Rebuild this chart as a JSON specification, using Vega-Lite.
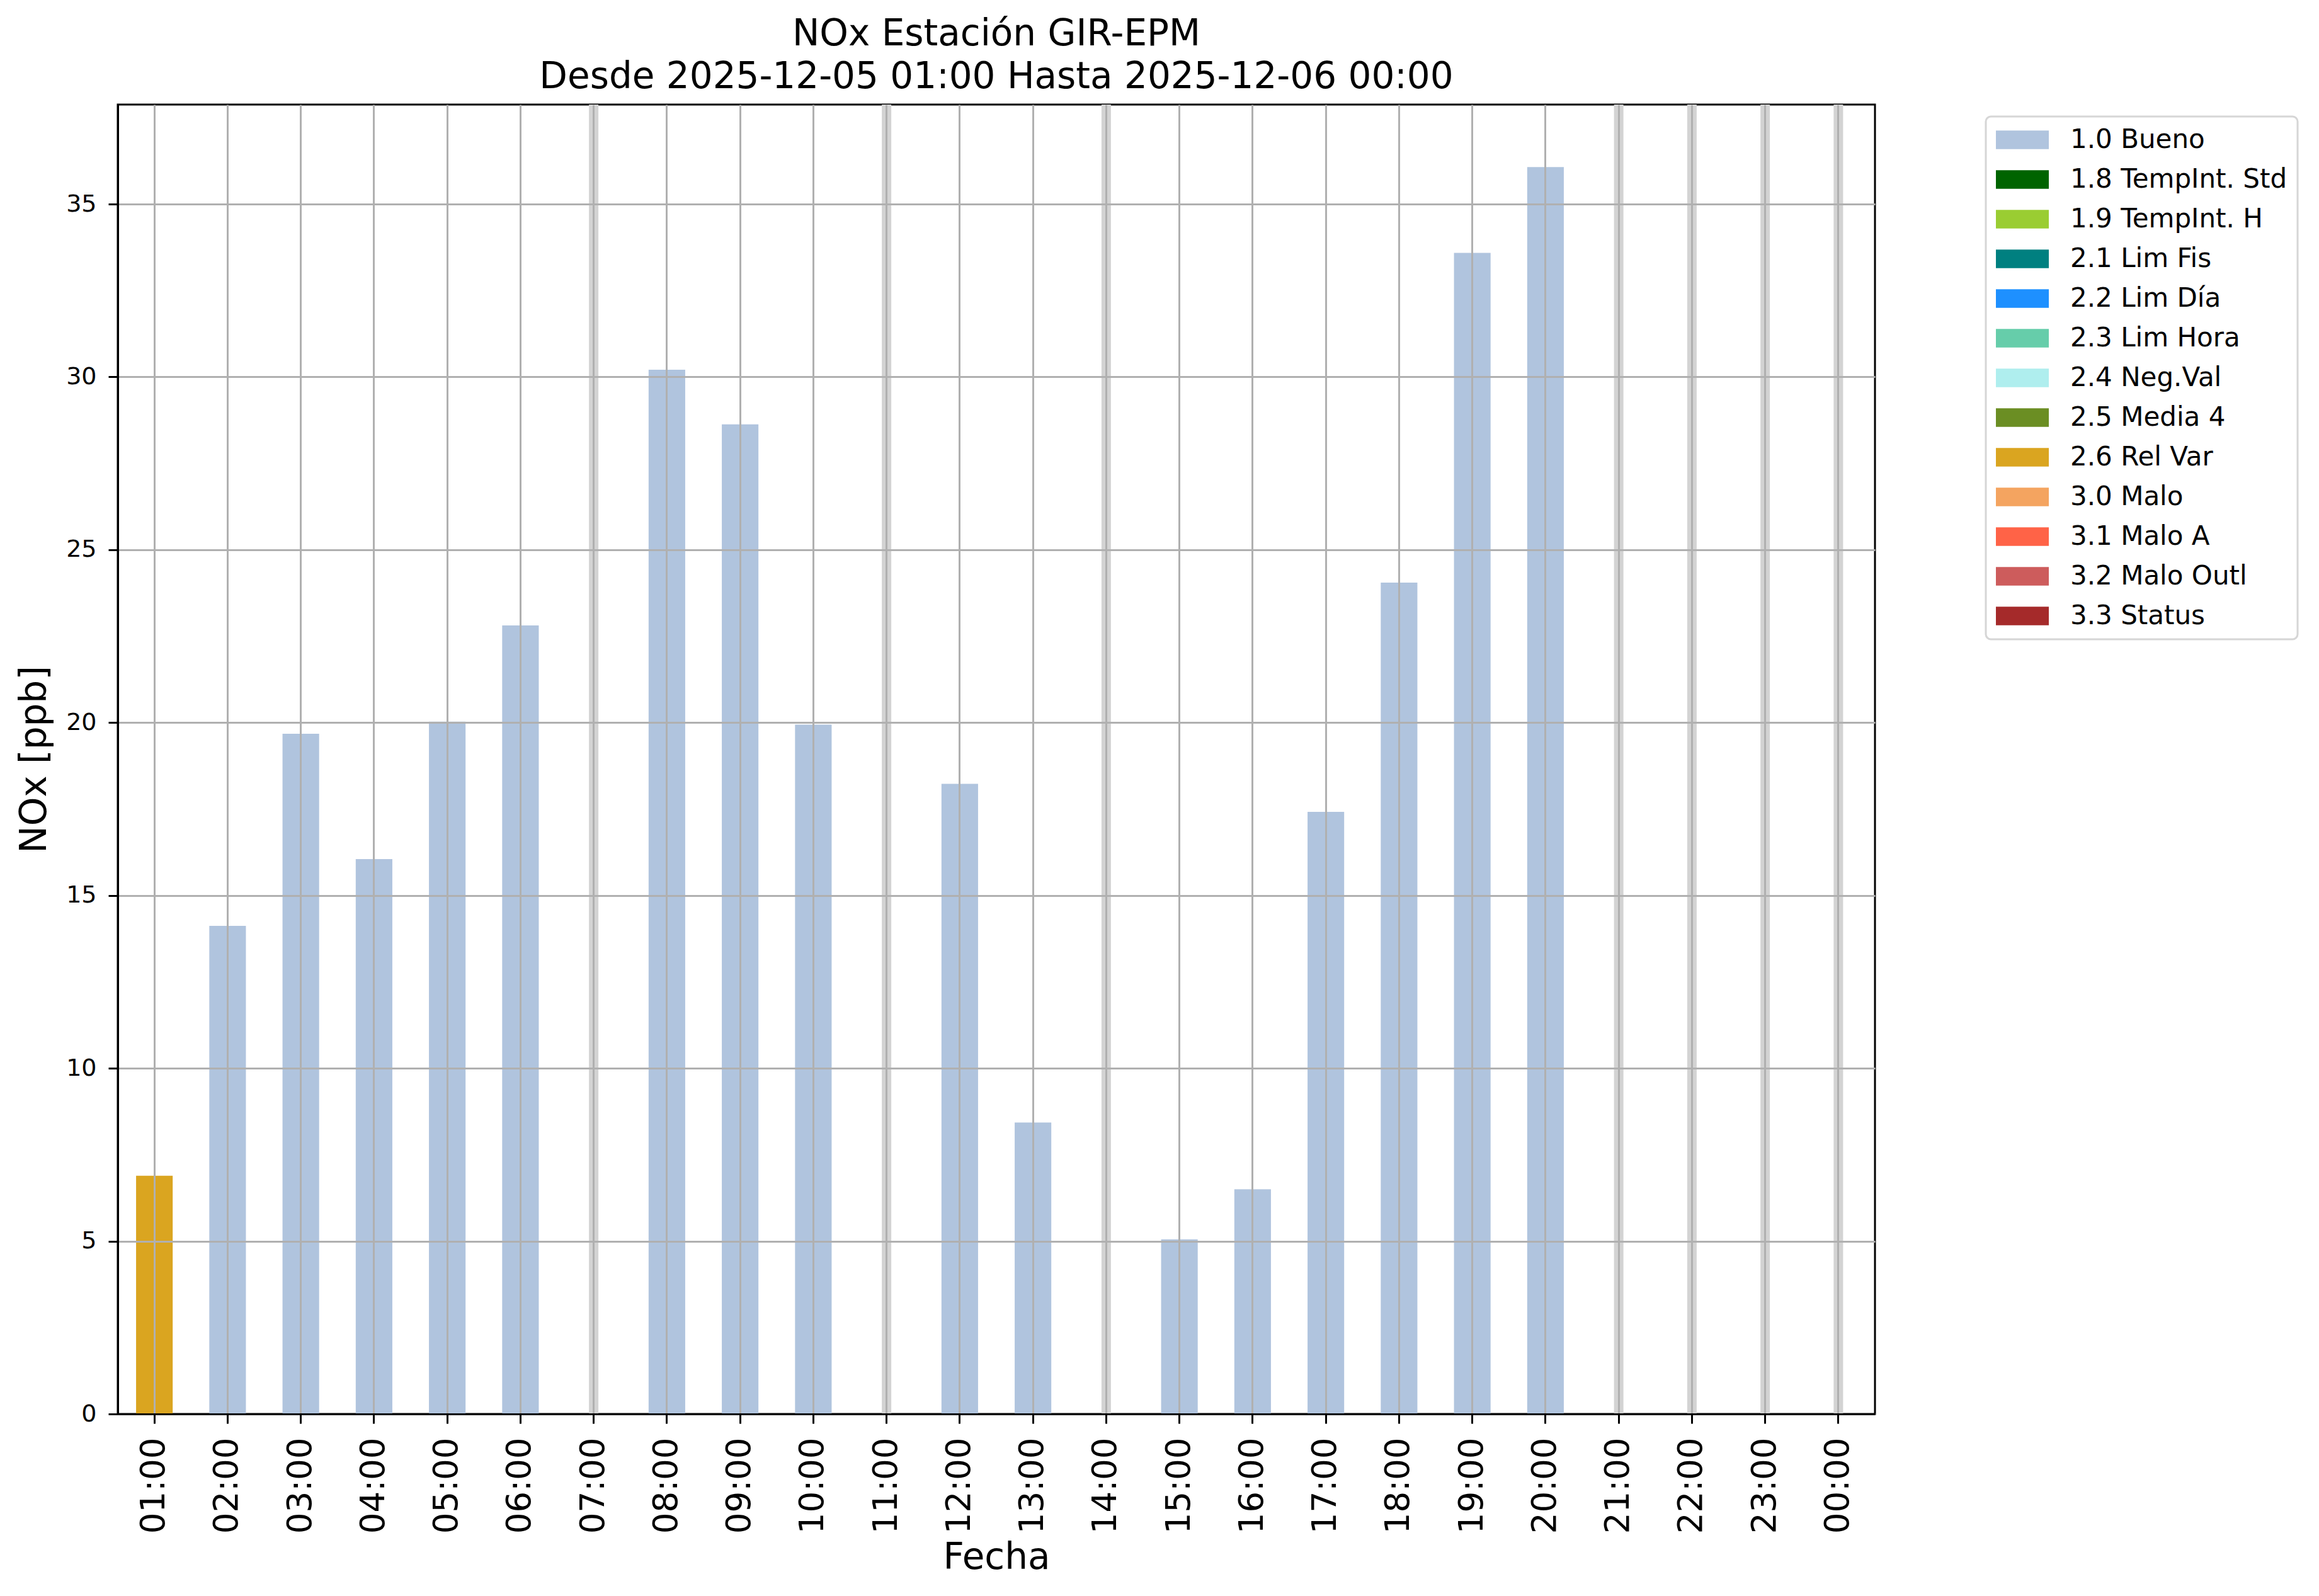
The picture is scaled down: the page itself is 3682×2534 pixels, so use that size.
{
  "$schema": "https://vega.github.io/schema/vega-lite/v6.json",
  "width": 2790,
  "height": 2079,
  "autosize": "none",
  "padding": {"left": 187, "top": 166, "right": 705, "bottom": 289},
  "background": "white",
  "title": {
    "text": ["NOx Estación GIR-EPM", "Desde 2025-12-05 01:00 Hasta 2025-12-06 00:00"],
    "font": "DejaVu Sans",
    "fontSize": 58,
    "fontWeight": "normal",
    "lineHeight": 68,
    "anchor": "middle",
    "frame": "group",
    "offset": 7,
    "color": "black"
  },
  "data": {
    "values": [
      {"hora": "01:00", "nox": 6.89, "flag": "2.6 Rel Var"},
      {"hora": "02:00", "nox": 14.12, "flag": "1.0 Bueno"},
      {"hora": "03:00", "nox": 19.68, "flag": "1.0 Bueno"},
      {"hora": "04:00", "nox": 16.05, "flag": "1.0 Bueno"},
      {"hora": "05:00", "nox": 20.03, "flag": "1.0 Bueno"},
      {"hora": "06:00", "nox": 22.81, "flag": "1.0 Bueno"},
      {"hora": "07:00", "nox": null, "flag": null},
      {"hora": "08:00", "nox": 30.21, "flag": "1.0 Bueno"},
      {"hora": "09:00", "nox": 28.63, "flag": "1.0 Bueno"},
      {"hora": "10:00", "nox": 19.94, "flag": "1.0 Bueno"},
      {"hora": "11:00", "nox": null, "flag": null},
      {"hora": "12:00", "nox": 18.23, "flag": "1.0 Bueno"},
      {"hora": "13:00", "nox": 8.43, "flag": "1.0 Bueno"},
      {"hora": "14:00", "nox": null, "flag": null},
      {"hora": "15:00", "nox": 5.05, "flag": "1.0 Bueno"},
      {"hora": "16:00", "nox": 6.50, "flag": "1.0 Bueno"},
      {"hora": "17:00", "nox": 17.42, "flag": "1.0 Bueno"},
      {"hora": "18:00", "nox": 24.05, "flag": "1.0 Bueno"},
      {"hora": "19:00", "nox": 33.59, "flag": "1.0 Bueno"},
      {"hora": "20:00", "nox": 36.07, "flag": "1.0 Bueno"},
      {"hora": "21:00", "nox": null, "flag": null},
      {"hora": "22:00", "nox": null, "flag": null},
      {"hora": "23:00", "nox": null, "flag": null},
      {"hora": "00:00", "nox": null, "flag": null}
    ]
  },
  "encoding": {
    "x": {
      "field": "hora",
      "type": "ordinal",
      "sort": null,
      "scale": {
        "domain": ["01:00","02:00","03:00","04:00","05:00","06:00","07:00","08:00","09:00","10:00","11:00","12:00","13:00","14:00","15:00","16:00","17:00","18:00","19:00","20:00","21:00","22:00","23:00","00:00"],
        "paddingInner": 0.5,
        "paddingOuter": 0.25
      },
      "axis": {
        "title": "Fecha",
        "labelAngle": -90,
        "labelFontSize": 53,
        "labelPadding": 22,
        "titlePadding": 10,
        "bandPosition": 0.5,
        "grid": true,
        "zindex": 2
      }
    }
  },
  "layer": [
    {
      "transform": [{"filter": "datum.nox === null"}],
      "mark": {"type": "rule", "color": "#d3d3d3", "strokeWidth": 15}
    },
    {
      "transform": [{"filter": "datum.nox !== null"}],
      "mark": {"type": "bar"},
      "encoding": {
        "y": {
          "field": "nox",
          "type": "quantitative",
          "scale": {"domain": [0, 37.88], "nice": false, "zero": true},
          "axis": {
            "title": "NOx [ppb]",
            "values": [0, 5, 10, 15, 20, 25, 30, 35],
            "labelFontSize": 38,
            "labelPadding": 19,
            "titlePadding": 20,
            "grid": true,
            "zindex": 2
          }
        },
        "color": {
          "field": "flag",
          "type": "nominal",
          "scale": {
            "domain": ["1.0 Bueno","1.8 TempInt. Std","1.9 TempInt. H","2.1 Lim Fis","2.2 Lim Día","2.3 Lim Hora","2.4 Neg.Val","2.5 Media 4","2.6 Rel Var","3.0 Malo","3.1 Malo A","3.2 Malo Outl","3.3 Status"],
            "range": ["#b0c4de","#006400","#9acd32","#008080","#1e90ff","#66cdaa","#afeeee","#6b8e23","#daa520","#f4a460","#ff6347","#cd5c5c","#a52a2a"]
          },
          "legend": {
            "title": null,
            "orient": "none",
            "legendX": 2966,
            "legendY": 19,
            "padding": 16,
            "fillColor": "white",
            "strokeColor": "#d6d6d6",
            "cornerRadius": 8,
            "symbolType": "M-1,-0.7L3,-0.7L3,0.7L-1,0.7Z",
            "symbolSize": 1764,
            "symbolStrokeWidth": 0,
            "symbolOpacity": 1,
            "labelFont": "DejaVu Sans",
            "labelFontSize": 42,
            "labelOffset": 76,
            "labelLimit": 800,
            "labelColor": "black",
            "rowPadding": 21
          }
        }
      }
    }
  ],
  "config": {
    "font": "DejaVu Sans",
    "view": {"stroke": "black", "strokeWidth": 3},
    "legend": {"strokeWidth": 3},
    "axis": {
      "domainColor": "black",
      "domainWidth": 3,
      "tickColor": "black",
      "tickWidth": 3,
      "tickSize": 15,
      "gridColor": "#b0b0b0",
      "gridWidth": 3,
      "gridOpacity": 1,
      "labelColor": "black",
      "labelFont": "DejaVu Sans",
      "titleFont": "DejaVu Sans",
      "titleFontSize": 58,
      "titleFontWeight": "normal",
      "titleColor": "black"
    }
  }
}
